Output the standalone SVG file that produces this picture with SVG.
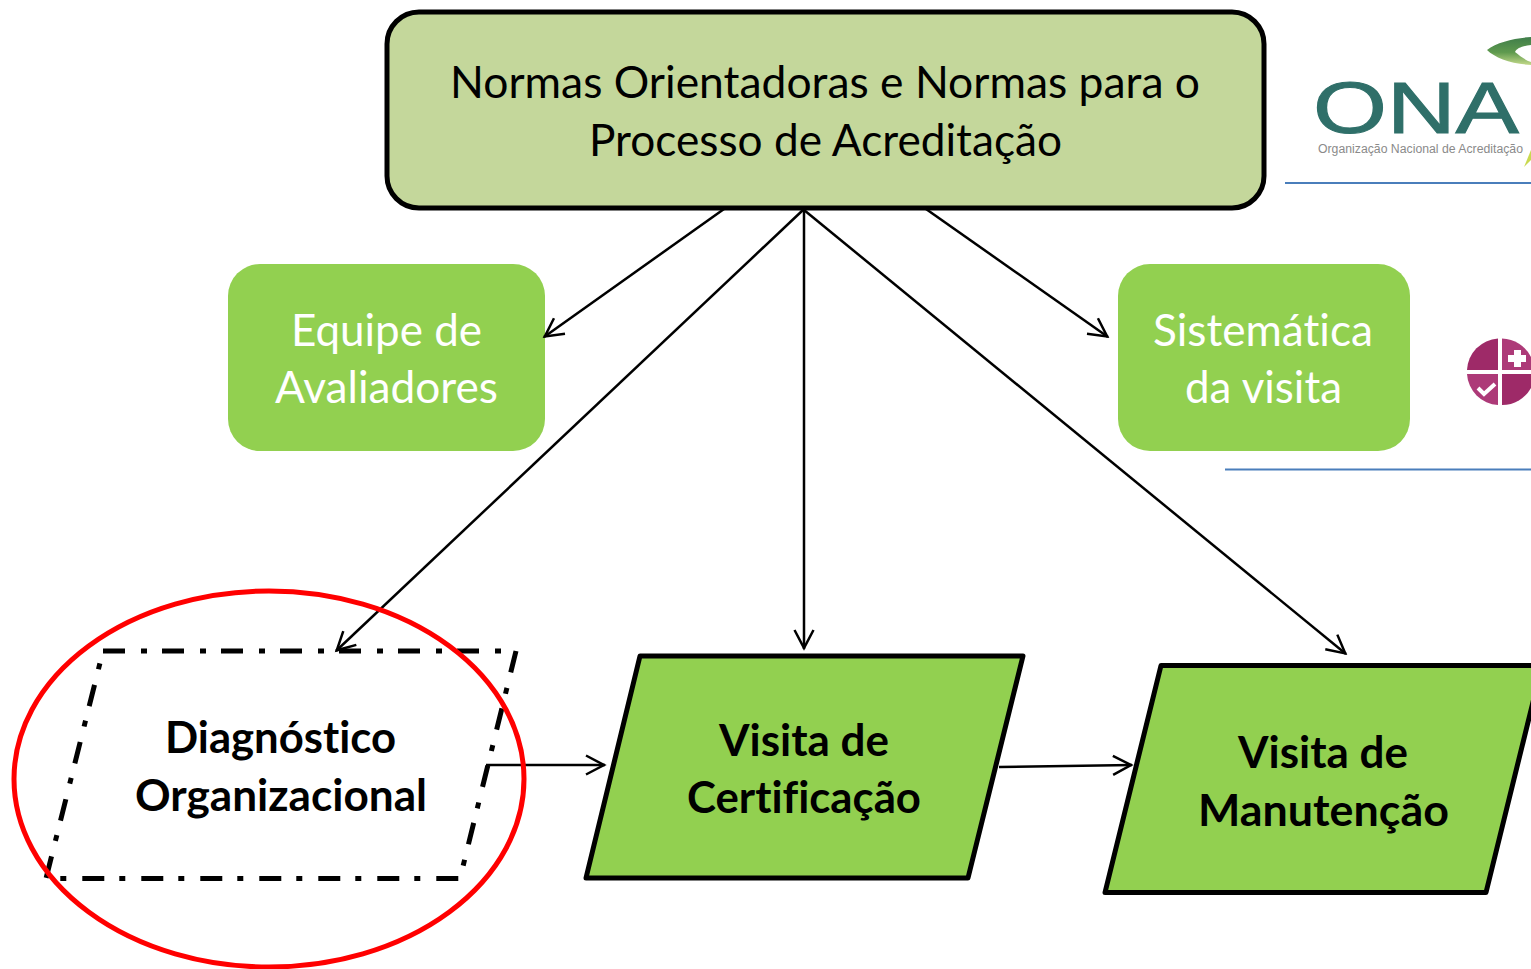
<svg xmlns="http://www.w3.org/2000/svg" width="1531" height="969" viewBox="0 0 1531 969">
<style>
text{font-family:"Lato","Open Sans","Liberation Sans",sans-serif;font-size:44px;fill:#000;font-variant-ligatures:none}
.w{fill:#fff}
.b{font-weight:700}
.g{fill:#92d050}
.p{stroke:#000;stroke-width:5;stroke-linejoin:round}
.c line{stroke:#000;stroke-width:2.5;marker-end:url(#a)}
</style>
<defs>
<marker id="a" markerUnits="userSpaceOnUse" markerWidth="28" markerHeight="26" refX="23" refY="11" orient="auto" overflow="visible">
<path d="M4 1.500L22 11L4 20.500" fill="none" stroke="#000" stroke-width="2.5"/>
</marker>
<linearGradient id="leaf" x1="0" y1="0" x2="0" y2="1">
<stop offset="0" stop-color="#3f7d4a"/>
<stop offset="0.55" stop-color="#5f9a4e"/>
<stop offset="1" stop-color="#c3d98a"/>
</linearGradient>
</defs>
<rect width="1531" height="969" fill="#fff"/>
<g id="logo-ona">
<path d="M1487 50C1497 42 1515 38 1531 37V45C1522 46 1517 48 1515 52C1520 56 1525 60 1531 62V65C1512 64 1495 58 1487 50Z" fill="url(#leaf)"/>
<path d="M1524 167L1531 150V160Z" fill="#c9d94f"/>
<text x="1313" y="133" textLength="206" lengthAdjust="spacingAndGlyphs" style="font-family:'Liberation Sans',sans-serif;font-size:72px;fill:#2f6f69;stroke:#2f6f69;stroke-width:1">ONA</text>
<text x="1318" y="153" textLength="205" lengthAdjust="spacingAndGlyphs" style="font-family:'Liberation Sans',sans-serif;font-size:12px;fill:#8a8a8a">Organização Nacional de Acreditação</text>
<line x1="1285" y1="183" x2="1531" y2="183" stroke="#4a7ebb" stroke-width="2"/>
</g>
<g id="logo-check">
<path d="M1498 338.500A33 33 0 0 0 1467 370H1498Z" fill="#9e2a68"/>
<path d="M1502 338.500A33 33 0 0 1 1531 357V370H1502Z" fill="#ad3a78"/>
<path d="M1467 374A33 33 0 0 0 1498 405V374Z" fill="#ad3a78"/>
<path d="M1502 374V405A33 33 0 0 0 1531 388V374Z" fill="#9e2a68"/>
<path d="M1514 350H1521V355H1526V362H1521V367H1514V362H1508V355H1514Z" fill="#fff"/>
<path d="M1478 388L1484 394L1495 384" fill="none" stroke="#fff" stroke-width="4"/>
<line x1="1225" y1="469.500" x2="1531" y2="469.500" stroke="#4a7ebb" stroke-width="2"/>
</g>
<g id="normas">
<rect x="387" y="12" width="877" height="196" rx="32" fill="#c4d79b" class="p"/>
<text x="450" y="98" textLength="750" lengthAdjust="spacingAndGlyphs">Normas Orientadoras e Normas para o</text>
<text x="589" y="156" textLength="473" lengthAdjust="spacingAndGlyphs">Processo de Acreditação</text>
</g>
<g id="equipe">
<rect x="228" y="264" width="317" height="187" rx="32" class="g"/>
<text x="291" y="345.500" textLength="191" lengthAdjust="spacingAndGlyphs" class="w">Equipe de</text>
<text x="275" y="403" textLength="223" lengthAdjust="spacingAndGlyphs" class="w">Avaliadores</text>
</g>
<g id="sistematica">
<rect x="1118" y="264" width="292" height="187" rx="32" class="g"/>
<text x="1153" y="345.500" textLength="220" lengthAdjust="spacingAndGlyphs" class="w">Sistemática</text>
<text x="1185" y="403" textLength="157" lengthAdjust="spacingAndGlyphs" class="w">da visita</text>
</g>
<g id="diagnostico">
<path d="M103 651H516L460 878.500H46Z" fill="none" stroke="#000" stroke-width="5" stroke-dasharray="22 16 6 15"/>
<text x="165" y="753" textLength="231" lengthAdjust="spacingAndGlyphs" class="b">Diagnóstico</text>
<text x="135" y="811" textLength="292" lengthAdjust="spacingAndGlyphs" class="b">Organizacional</text>
</g>
<g id="certificacao">
<path d="M640 656H1023L968 878H586Z" class="g p"/>
<text x="719" y="756" textLength="170" lengthAdjust="spacingAndGlyphs" class="b">Visita de</text>
<text x="687" y="813" textLength="234" lengthAdjust="spacingAndGlyphs" class="b">Certificação</text>
</g>
<g id="manutencao">
<path d="M1161 665.500H1542L1486 892.500H1105Z" class="g p"/>
<text x="1238" y="768" textLength="170" lengthAdjust="spacingAndGlyphs" class="b">Visita de</text>
<text x="1198" y="826" textLength="251" lengthAdjust="spacingAndGlyphs" class="b">Manutenção</text>
</g>
<g id="connectors" class="c">
<line x1="724" y1="209" x2="544" y2="337"/>
<line x1="803" y1="210" x2="336" y2="651"/>
<line x1="804" y1="210" x2="804" y2="649"/>
<line x1="804" y1="210" x2="1346" y2="654"/>
<line x1="926" y1="209" x2="1108" y2="337"/>
<line x1="486" y1="765" x2="605" y2="765"/>
<line x1="999" y1="767" x2="1132" y2="765"/>
</g>
<ellipse id="highlight" cx="269" cy="779" rx="255" ry="188" fill="none" stroke="#f00" stroke-width="5"/>
</svg>
